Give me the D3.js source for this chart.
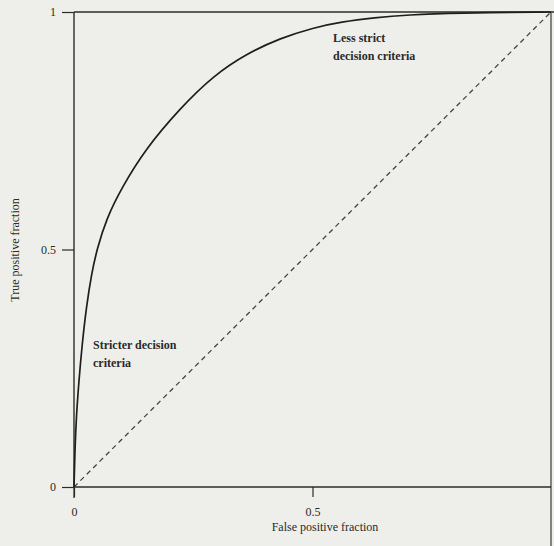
<!DOCTYPE html>
<html><head><meta charset="utf-8">
<script src="https://cdn.jsdelivr.net/npm/d3@7"></script>
<style>
html,body{margin:0;padding:0;background:#eeefeb;}
svg{display:block;}
text{font-family:"Liberation Serif","DejaVu Serif",serif;fill:#2a2a2a;}
</style></head>
<body>
<script>
// ROC curve points (false positive fraction, true positive fraction)
const fpr = [0, 0.002, 0.005, 0.01, 0.017, 0.026, 0.037, 0.048, 0.068, 0.1, 0.15, 0.223, 0.292, 0.363, 0.433, 0.502, 0.56, 0.63, 0.70, 0.80, 1];
const tpr = [0, 0.08, 0.15, 0.22, 0.30, 0.38, 0.45, 0.50, 0.565, 0.63, 0.712, 0.798, 0.866, 0.913, 0.945, 0.967, 0.979, 0.988, 0.994, 0.998, 1];
const chanceLine = [0, 1];
const xTicks = [0, 0.5];
const yTicks = [0, 0.5, 1];
const tickLabels = {0: "0", 0.5: "0.5", 1: "1"};
const xTitle = "False positive fraction";
const yTitle = "True positive fraction";
const annoLess = ["Less strict", "decision criteria"];
const annoStrict = ["Stricter decision", "criteria"];

const W = 554, H = 546;
const svg = d3.select("body").append("svg").attr("width", W).attr("height", H);
const x = d3.scaleLinear().domain([0, 1]).range([74, 551]);
const y = d3.scaleLinear().domain([0, 1]).range([487, 12]);
const ink = "#2b2b2b";

// frame lines (top and right)
svg.append("line").attr("x1", x(0)).attr("x2", W).attr("y1", y(1)).attr("y2", y(1))
  .attr("stroke", ink).attr("stroke-width", 1.4);
svg.append("line").attr("x1", x(1)).attr("x2", x(1)).attr("y1", y(1)).attr("y2", H)
  .attr("stroke", "#555").attr("stroke-width", 1.4);

// axes
const yAxis = d3.axisLeft(y).tickValues(yTicks).tickSize(12).tickPadding(6)
  .tickFormat(d => tickLabels[d]);
const gy = svg.append("g").attr("transform", `translate(${x(0)},0)`).call(yAxis);
const xAxis = d3.axisBottom(x).tickValues(xTicks).tickSize(10).tickPadding(10)
  .tickFormat(d => tickLabels[d]);
const gx = svg.append("g").attr("transform", `translate(0,${y(0)})`).call(xAxis);
[gx, gy].forEach(g => {
  g.select(".domain").attr("stroke", ink).attr("stroke-width", 1.4);
  g.selectAll(".tick line").attr("stroke", ink).attr("stroke-width", 1.2);
  g.selectAll("text").attr("font-size", 12).attr("fill", "#2a2a2a")
    .style("font-family", '"Liberation Serif",serif');
});
gx.select(".domain").attr("d", `M${x(0)},0H${x(1)}`);
gy.select(".domain").attr("d", `M0,${y(0)}V${y(1)}`);
svg.append("line").attr("x1", x(0)).attr("x2", x(0)).attr("y1", y(0)).attr("y2", y(0) + 11)
  .attr("stroke", ink).attr("stroke-width", 1.2);

// chance diagonal
svg.append("line")
  .attr("x1", x(chanceLine[0])).attr("y1", y(chanceLine[0]))
  .attr("x2", x(chanceLine[1])).attr("y2", y(chanceLine[1]))
  .attr("stroke", "#444").attr("stroke-width", 1.3).attr("stroke-dasharray", "5,4");

// ROC curve
const pts = fpr.map((f, i) => [f, tpr[i]]);
svg.append("path").datum(pts)
  .attr("d", d3.line().x(d => x(d[0])).y(d => y(d[1])).curve(d3.curveBasis))
  .attr("fill", "none").attr("stroke", "#1e1e1e").attr("stroke-width", 1.7);

// titles
svg.append("text").attr("x", 325).attr("y", 531).attr("text-anchor", "middle")
  .attr("font-size", 12).text(xTitle);
svg.append("text").attr("transform", "translate(19,250) rotate(-90)")
  .attr("text-anchor", "middle").attr("font-size", 12).text(yTitle);

// annotations
function anno(lines, x0, y0) {
  const t = svg.append("text").attr("font-size", 12).attr("font-weight", "bold").attr("fill", "#333");
  lines.forEach((s, i) => t.append("tspan").attr("x", x0).attr("y", y0 + i * 18).text(s));
}
anno(annoLess, 333, 42);
anno(annoStrict, 93, 349);
</script>
</body></html>
